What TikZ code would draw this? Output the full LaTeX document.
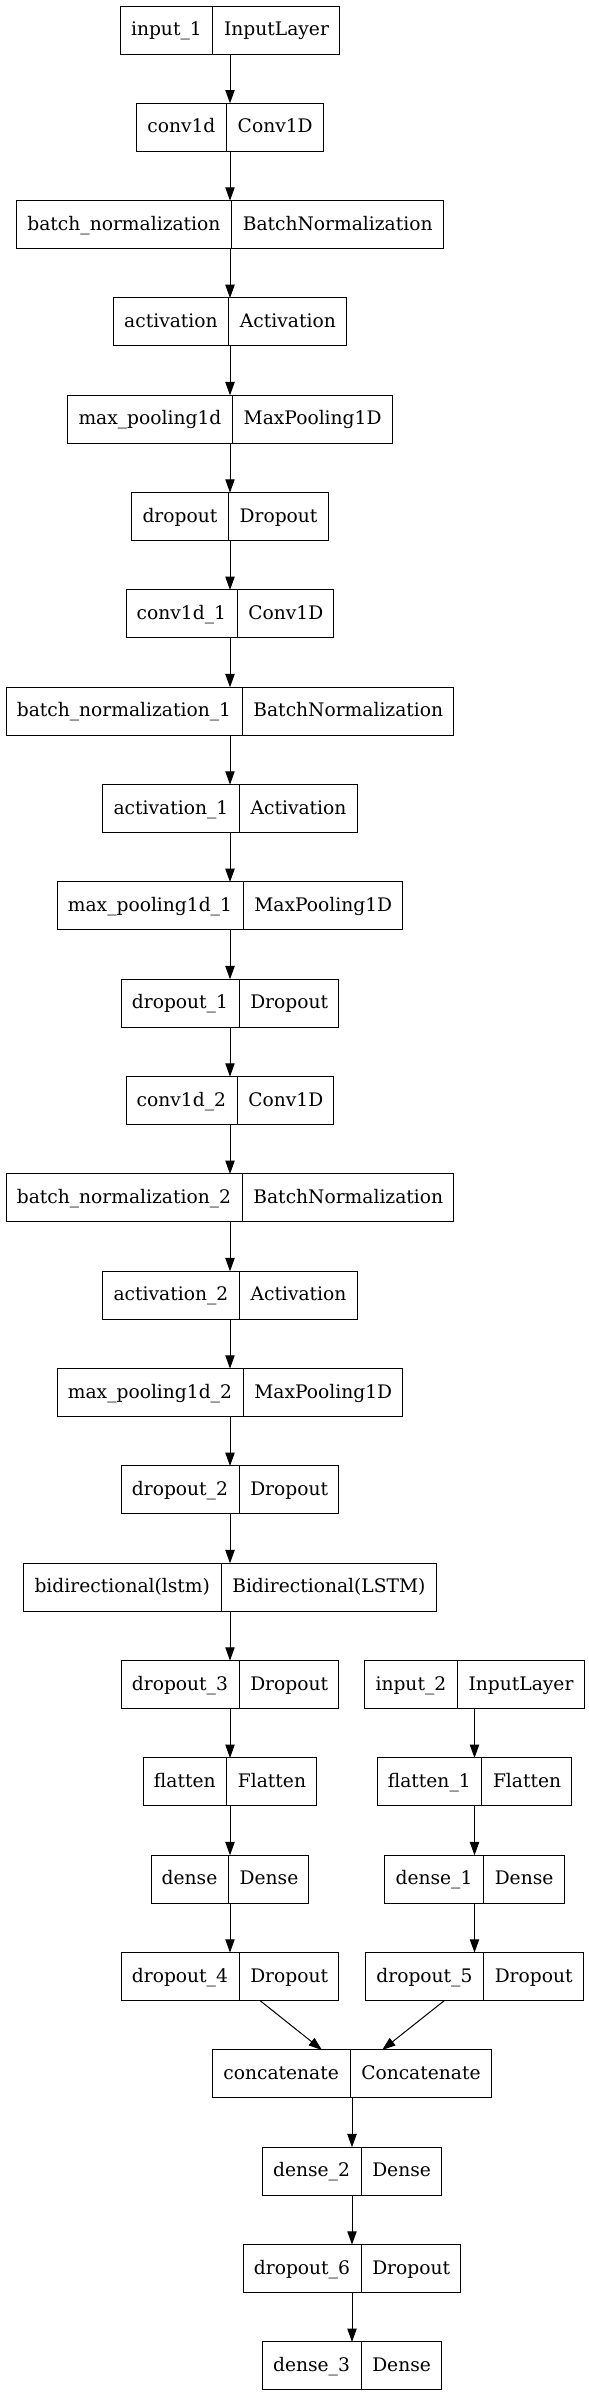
\documentclass[tikz,border=0pt]{standalone}
\usepackage{fontspec}
\setmainfont{DejaVu Serif}
\usetikzlibrary{shapes.multipart,arrows.meta}
\newcommand{\rs}{\rule[-13.8pt]{0pt}{36pt}}
\begin{document}
\begin{tikzpicture}[x=0.75pt,y=-0.75pt,
  layer/.style={draw=black, line width=0.75pt, rectangle split, rectangle split horizontal,
    rectangle split parts=2, inner xsep=8pt, inner ysep=0pt, outer sep=0pt,
    font=\fontsize{14pt}{16pt}\selectfont},
  arr/.style={-{Triangle[length=10pt,width=7pt]}, line width=0.75pt}]
\useasboundingbox (0,0) rectangle (589,2396);
\def\r#1{30+97.33*#1}
\node[layer] (in1) at (230,{\r{0}}) {\rs input\_1\nodepart{two}\rs InputLayer};
\node[layer] (c0) at (230,{\r{1}}) {\rs conv1d\nodepart{two}\rs Conv1D};
\node[layer] (b0) at (230,{\r{2}}) {\rs batch\_normalization\nodepart{two}\rs BatchNormalization};
\node[layer] (a0) at (230,{\r{3}}) {\rs activation\nodepart{two}\rs Activation};
\node[layer] (m0) at (230,{\r{4}}) {\rs max\_pooling1d\nodepart{two}\rs MaxPooling1D};
\node[layer] (d0) at (230,{\r{5}}) {\rs dropout\nodepart{two}\rs Dropout};
\node[layer] (c1) at (230,{\r{6}}) {\rs conv1d\_1\nodepart{two}\rs Conv1D};
\node[layer] (b1) at (230,{\r{7}}) {\rs batch\_normalization\_1\nodepart{two}\rs BatchNormalization};
\node[layer] (a1) at (230,{\r{8}}) {\rs activation\_1\nodepart{two}\rs Activation};
\node[layer] (m1) at (230,{\r{9}}) {\rs max\_pooling1d\_1\nodepart{two}\rs MaxPooling1D};
\node[layer] (d1) at (230,{\r{10}}) {\rs dropout\_1\nodepart{two}\rs Dropout};
\node[layer] (c2) at (230,{\r{11}}) {\rs conv1d\_2\nodepart{two}\rs Conv1D};
\node[layer] (b2) at (230,{\r{12}}) {\rs batch\_normalization\_2\nodepart{two}\rs BatchNormalization};
\node[layer] (a2) at (230,{\r{13}}) {\rs activation\_2\nodepart{two}\rs Activation};
\node[layer] (m2) at (230,{\r{14}}) {\rs max\_pooling1d\_2\nodepart{two}\rs MaxPooling1D};
\node[layer] (d2) at (230,{\r{15}}) {\rs dropout\_2\nodepart{two}\rs Dropout};
\node[layer] (bi) at (230,{\r{16}}) {\rs bidirectional(lstm)\nodepart{two}\rs Bidirectional(LSTM)};
\node[layer] (d3) at (230,{\r{17}}) {\rs dropout\_3\nodepart{two}\rs Dropout};
\node[layer] (fl) at (230,{\r{18}}) {\rs flatten\nodepart{two}\rs Flatten};
\node[layer] (de) at (230,{\r{19}}) {\rs dense\nodepart{two}\rs Dense};
\node[layer] (d4) at (230,{\r{20}}) {\rs dropout\_4\nodepart{two}\rs Dropout};
\node[layer] (in2) at (474.5,{\r{17}}) {\rs input\_2\nodepart{two}\rs InputLayer};
\node[layer] (fl1) at (474.5,{\r{18}}) {\rs flatten\_1\nodepart{two}\rs Flatten};
\node[layer] (de1) at (474.5,{\r{19}}) {\rs dense\_1\nodepart{two}\rs Dense};
\node[layer] (d5) at (474.5,{\r{20}}) {\rs dropout\_5\nodepart{two}\rs Dropout};
\node[layer] (cc) at (352,{\r{21}}) {\rs concatenate\nodepart{two}\rs Concatenate};
\node[layer] (de2) at (352,{\r{22}}) {\rs dense\_2\nodepart{two}\rs Dense};
\node[layer] (d6) at (352,{\r{23}}) {\rs dropout\_6\nodepart{two}\rs Dropout};
\node[layer] (de3) at (352,{\r{24}}) {\rs dense\_3\nodepart{two}\rs Dense};
\foreach \a/\b in {in1/c0,c0/b0,b0/a0,a0/m0,m0/d0,d0/c1,c1/b1,b1/a1,a1/m1,m1/d1,d1/c2,c2/b2,b2/a2,a2/m2,m2/d2,d2/bi,bi/d3,d3/fl,fl/de,de/d4,in2/fl1,fl1/de1,de1/d5,d4/cc,d5/cc,cc/de2,de2/d6,d6/de3}
  \draw[arr] (\a) -- (\b);
\end{tikzpicture}
\end{document}
